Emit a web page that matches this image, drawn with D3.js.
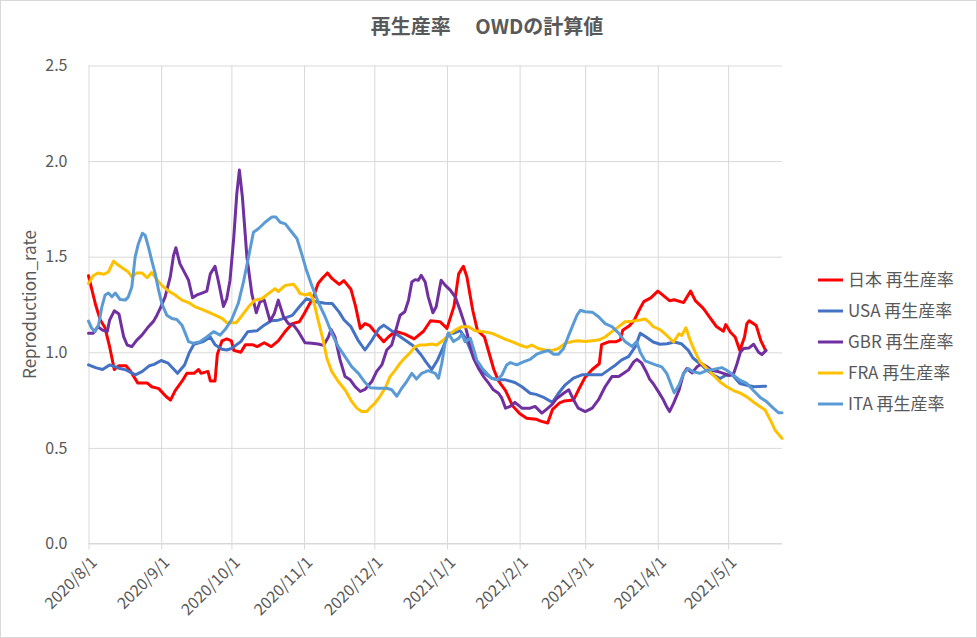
<!DOCTYPE html>
<html><head><meta charset="utf-8">
<script src="https://cdn.jsdelivr.net/npm/d3@7"></script>
<style>
html,body{margin:0;padding:0;background:#fff;}
svg{display:block;}
</style></head>
<body>
<svg id="chart" width="977" height="638"></svg>
<script>
// ---- data: [days since 2020-08-01, value] ----
const startDate = "2020-08-01";
const endDate = "2021-05-24";
const monthTicks = ["2020-08-01","2020-09-01","2020-10-01","2020-11-01","2020-12-01","2021-01-01","2021-02-01","2021-03-01","2021-04-01","2021-05-01"];
const yTicks = [0, 0.5, 1.0, 1.5, 2.0, 2.5];
const seriesNames = ["日本 再生産率","USA 再生産率","GBR 再生産率","FRA 再生産率","ITA 再生産率"];
const seriesColors = ["#FF0000","#4472C4","#7030A0","#FFC000","#5B9BD5"];

const jpn = [[0,1.40],[3,1.25],[5,1.17],[7,1.13],[9,1.03],[11,0.91],[13,0.93],[16,0.93],[18,0.90],[21,0.84],[25,0.84],[27,0.82],[30,0.81],[33,0.77],[35,0.75],[37,0.80],[40,0.85],[42,0.89],[45,0.89],[47,0.91],[48,0.89],[51,0.90],[52,0.85],[54,0.85],[55,0.99],[57,1.06],[59,1.07],[61,1.06],[62,1.01],[65,1.00],[67,1.04],[70,1.04],[72,1.03],[75,1.05],[78,1.03],[81,1.06],[84,1.11],[87,1.15],[90,1.16],[92,1.20],[96,1.29],[98,1.36],[100,1.39],[102,1.415],[104,1.385],[107,1.355],[109,1.375],[112,1.33],[114,1.24],[116,1.125],[118,1.15],[120,1.14],[122,1.11],[126,1.055],[128,1.08],[131,1.11],[135,1.095],[139,1.07],[143,1.11],[146,1.165],[150,1.16],[153,1.125],[156,1.24],[158,1.41],[160,1.45],[161.5,1.395],[164,1.22],[166,1.115],[169,1.08],[171,0.995],[173,0.91],[175,0.85],[178,0.80],[181,0.72],[184,0.68],[187,0.655],[191,0.65],[193,0.64],[196,0.63],[198,0.70],[201,0.735],[203,0.745],[207,0.75],[209,0.80],[212,0.87],[215,0.91],[218,0.94],[219,1.04],[222,1.055],[225,1.055],[227,1.065],[228,1.115],[231,1.14],[233,1.17],[235,1.22],[237,1.265],[240,1.285],[243,1.32],[245,1.30],[248,1.27],[250,1.275],[254,1.26],[257,1.32],[259,1.27],[262,1.235],[263,1.22],[265,1.185],[268,1.135],[271,1.11],[272,1.145],[274,1.105],[276,1.08],[278,1.01],[280,1.08],[281,1.15],[282,1.165],[285,1.14],[287,1.06],[289,1.01]];

const usa = [[0,0.934],[3,0.92],[6,0.91],[9,0.934],[13,0.917],[16,0.908],[20,0.882],[23,0.90],[26,0.93],[28,0.937],[31,0.957],[34,0.943],[36,0.917],[38,0.89],[41,0.934],[43,0.998],[45,1.042],[49,1.056],[52,1.08],[54,1.04],[57,1.016],[59,1.012],[61,1.02],[65,1.056],[68,1.108],[72,1.113],[75,1.142],[78,1.165],[81,1.168],[84,1.18],[87,1.193],[90,1.238],[93,1.28],[97,1.264],[101,1.257],[104,1.255],[107,1.21],[109,1.17],[112,1.134],[115,1.064],[118,1.012],[121,1.064],[124,1.125],[126,1.142],[129,1.116],[132,1.09],[136,1.056],[139,1.03],[142,0.986],[144,0.95],[146.5,0.91],[149,0.96],[151.5,1.03],[153.6,1.10],[156,1.10],[158.6,1.113],[161,1.073],[163.6,0.995],[166,0.934],[169,0.89],[172,0.865],[175,0.856],[178,0.856],[182,0.842],[185,0.82],[188.5,0.786],[191,0.78],[194,0.766],[198,0.738],[200.6,0.786],[203.5,0.83],[207,0.865],[210.6,0.882],[215,0.882],[219,0.882],[222,0.908],[225,0.934],[227.6,0.96],[230.5,0.977],[233.4,1.03],[235.5,1.10],[238,1.08],[241,1.054],[244,1.042],[247,1.045],[250,1.054],[253,1.045],[256,1.01],[258,0.97],[261,0.94],[264,0.906],[267,0.88],[269.6,0.863],[272,0.88],[275,0.88],[278,0.837],[281,0.828],[284,0.82],[289,0.823]];

const gbr = [[0,1.10],[2,1.10],[4,1.134],[6,1.116],[8,1.108],[9,1.168],[11,1.217],[13,1.20],[15,1.082],[16.5,1.038],[18.5,1.03],[20.6,1.064],[22.8,1.09],[25.6,1.134],[27.8,1.163],[29.2,1.194],[30.6,1.23],[32.7,1.29],[34.9,1.394],[36.3,1.507],[37.3,1.547],[39,1.464],[41.3,1.41],[42.7,1.377],[44.4,1.286],[46.3,1.30],[48.4,1.31],[50.5,1.32],[52,1.41],[54,1.45],[55.5,1.368],[57.6,1.24],[59,1.28],[60.4,1.377],[62,1.60],[63.3,1.83],[64.4,1.953],[65.7,1.81],[67.6,1.50],[69.7,1.307],[71.6,1.207],[73.2,1.264],[75,1.273],[77.5,1.163],[79.3,1.203],[81,1.273],[83.2,1.187],[85.3,1.15],[87.5,1.142],[89.6,1.108],[92.4,1.05],[95.3,1.047],[98,1.043],[100.3,1.036],[102.4,1.08],[103.5,1.12],[105.2,1.08],[107.4,0.96],[109.5,0.873],[111.7,0.856],[113.8,0.82],[116,0.795],[118,0.806],[120.9,0.847],[123,0.90],[125.2,0.934],[127.3,1.012],[129.4,1.038],[131.6,1.134],[133,1.194],[135,1.212],[136.6,1.273],[138,1.368],[139.4,1.38],[140.8,1.377],[142,1.403],[143.7,1.368],[145,1.29],[147,1.207],[148.4,1.238],[150.5,1.377],[152.3,1.35],[154.4,1.325],[156.5,1.29],[158.6,1.22],[160.7,1.142],[162.9,1.038],[164.3,0.97],[166.4,0.917],[168.6,0.873],[170.7,0.84],[172.8,0.804],[175,0.786],[176.4,0.76],[178,0.708],[180,0.717],[182,0.738],[185,0.708],[188.5,0.708],[190.6,0.717],[193.5,0.682],[195.6,0.703],[197.8,0.726],[200,0.76],[202.8,0.786],[205,0.804],[207,0.752],[209,0.708],[212,0.69],[215,0.708],[217.7,0.752],[220.5,0.82],[223.4,0.873],[226.3,0.873],[228.4,0.89],[230.5,0.908],[232.7,0.95],[234.1,0.963],[236,0.945],[238,0.90],[239.5,0.86],[241,0.837],[243.3,0.793],[245.4,0.75],[246.8,0.715],[248,0.69],[249.7,0.733],[252,0.80],[254,0.89],[255.4,0.915],[257.6,0.892],[259.7,0.924],[261.8,0.94],[264,0.924],[266,0.906],[269,0.898],[271,0.89],[273.3,0.88],[275.4,0.89],[276.8,0.94],[278.2,1.0],[279.6,1.02],[281.8,1.022],[283.9,1.042],[286,1.0],[287.4,0.988],[289.2,1.01]];

const fra = [[0,1.36],[2,1.40],[4,1.415],[6.4,1.408],[8.5,1.42],[10.7,1.477],[12.8,1.455],[15,1.437],[17,1.42],[18.5,1.394],[20.6,1.415],[22.8,1.415],[25,1.39],[27,1.417],[29.2,1.38],[31.3,1.35],[34.2,1.32],[37,1.30],[39.9,1.273],[42.7,1.26],[45.5,1.238],[48.4,1.224],[51.2,1.21],[54,1.194],[57,1.177],[59,1.155],[63,1.155],[65.4,1.19],[68.3,1.238],[71,1.273],[74,1.28],[76.8,1.307],[79.6,1.333],[81,1.318],[84,1.35],[87.5,1.356],[89,1.333],[90.3,1.307],[93,1.30],[94.5,1.31],[96,1.273],[98,1.168],[100.3,1.056],[101.7,0.97],[103.8,0.90],[106.6,0.847],[109.5,0.804],[112.3,0.743],[114.5,0.708],[116.6,0.69],[118.8,0.69],[120.2,0.71],[122.3,0.734],[124.4,0.77],[126.6,0.812],[128.7,0.873],[131,0.908],[133,0.943],[135,0.97],[137.3,0.998],[139.4,1.03],[141.5,1.038],[143.7,1.038],[146.5,1.043],[148.6,1.038],[151.5,1.064],[153.6,1.09],[156.5,1.116],[159.3,1.134],[162.2,1.134],[165,1.113],[168.6,1.108],[172,1.10],[175,1.085],[178,1.068],[180.7,1.056],[184.2,1.038],[187,1.026],[189.2,1.038],[192,1.02],[195,1.012],[197.8,1.009],[200.6,1.02],[203.5,1.047],[206.3,1.056],[209,1.06],[212,1.056],[215,1.06],[217.7,1.064],[220.5,1.08],[223.4,1.108],[226.3,1.134],[229,1.16],[232,1.163],[234.8,1.168],[237.6,1.174],[239.5,1.155],[241,1.135],[244,1.118],[246.8,1.088],[249.7,1.054],[252,1.097],[253.2,1.088],[255,1.128],[256.8,1.0625],[259,1.0],[261,0.95],[264,0.915],[266.7,0.88],[269.6,0.845],[272.4,0.82],[275.3,0.80],[278,0.788],[281,0.767],[283.8,0.74],[286.7,0.715],[288.8,0.698],[291,0.646],[293,0.594],[296,0.55]];

const ita = [[0,1.163],[1.4,1.125],[2.8,1.108],[4.3,1.142],[5.7,1.238],[7.1,1.30],[8.5,1.31],[10,1.29],[11.4,1.31],[13.5,1.276],[15.7,1.273],[17,1.29],[18.5,1.342],[19.9,1.498],[21.3,1.568],[23,1.623],[24.2,1.611],[25.6,1.55],[27,1.48],[28.5,1.41],[29.9,1.325],[31.3,1.255],[33.4,1.194],[35.6,1.177],[37.7,1.172],[39.9,1.142],[41.3,1.10],[42.7,1.056],[44.8,1.047],[47.7,1.056],[50.5,1.08],[53.4,1.108],[56.2,1.09],[58.4,1.12],[61,1.168],[63.9,1.255],[66,1.36],[68.3,1.498],[70.4,1.628],[72.5,1.646],[75.4,1.68],[78.2,1.707],[80,1.707],[81.8,1.68],[84,1.672],[86.8,1.628],[89,1.594],[91,1.515],[93,1.43],[95.3,1.35],[98,1.264],[101,1.186],[103.8,1.10],[106.6,1.03],[109.5,0.977],[112.3,0.925],[115.2,0.89],[118,0.843],[120.2,0.815],[123.7,0.812],[127.3,0.812],[129.4,0.804],[131.6,0.77],[133.7,0.812],[135.8,0.847],[138,0.89],[140,0.86],[142.2,0.89],[145,0.904],[148,0.89],[149.4,0.864],[150.8,0.943],[152.2,1.047],[153.6,1.10],[155.8,1.056],[158,1.073],[159.3,1.095],[160.7,1.056],[163,1.073],[164.3,1.02],[165.7,0.96],[168,0.917],[170,0.89],[172,0.864],[174.3,0.856],[176.4,0.88],[178.5,0.934],[180,0.946],[182.8,0.934],[185.6,0.95],[188.5,0.963],[191.3,0.99],[194.2,1.003],[196.3,1.009],[198.5,0.99],[200.6,0.99],[202.8,1.02],[205,1.09],[207,1.15],[208.5,1.194],[210,1.22],[212,1.212],[215,1.21],[217.7,1.186],[220.5,1.15],[223.4,1.134],[226.3,1.10],[229,1.056],[232,1.03],[234,1.056],[235.5,1.0],[237.6,0.955],[239.8,0.945],[242.6,0.932],[244.7,0.924],[246.8,0.89],[249,0.82],[250,0.788],[252,0.828],[254,0.89],[256,0.915],[258,0.898],[261,0.89],[264,0.906],[266.7,0.91],[270.3,0.92],[272.4,0.906],[275.3,0.88],[278,0.854],[281,0.837],[283.8,0.80],[286.7,0.764],[289.5,0.741],[292.4,0.707],[294.5,0.684],[296,0.684]];

const allSeries = [jpn, usa, gbr, fra, ita];

// ---- layout ----
const W = 977, H = 638;
const margin = {left: 88.5, right: W - 782, top: 65.5, bottom: H - 543.5};
const svg = d3.select("#chart");
const parse = d3.utcParse("%Y-%m-%d");
const t0 = parse(startDate);
const toDate = d => new Date(t0.getTime() + d * 86400000);

const x = d3.scaleUtc().domain([t0, parse(endDate)]).range([margin.left, W - margin.right]);
const y = d3.scaleLinear().domain([0, 2.5]).range([H - margin.bottom, margin.top]);

// border
svg.append("rect").attr("x",0.5).attr("y",0.5).attr("width",W-1).attr("height",H-1)
  .attr("fill","#fff").attr("stroke","#d9d9d9");

const gridColor = "#d9d9d9";
const txtColor = "#595959";
const fontCJK = "'Noto Sans CJK JP', 'Noto Sans', sans-serif";

// horizontal grid + y labels
const yAxis = d3.axisLeft(y).tickValues(yTicks).tickFormat(d3.format(".1f"))
  .tickSizeInner(-(x.range()[1]-x.range()[0])).tickSizeOuter(0).tickPadding(21);
const gy = svg.append("g").attr("transform",`translate(${margin.left},0)`).call(yAxis);
gy.select(".domain").remove();
gy.selectAll(".tick line").attr("stroke",gridColor).attr("stroke-width",1);
gy.selectAll(".tick text").attr("fill",txtColor).style("font-family",fontCJK).style("font-size","16px");

// vertical grid + x labels
const xAxis = d3.axisBottom(x).tickValues(monthTicks.map(parse))
  .tickFormat(d3.utcFormat("%Y/%-m/%-d")).tickSizeOuter(0);
const gx = svg.append("g").attr("transform",`translate(0,${y(0)})`).call(xAxis);
gx.select(".domain").remove();
gx.selectAll(".tick line").attr("y1",6).attr("y2",-(y(0)-y(2.5))).attr("stroke",gridColor);
gx.selectAll(".tick text").attr("fill",txtColor).style("font-family",fontCJK).style("font-size","16px")
  .attr("text-anchor","end").attr("dy",null).attr("y",null)
  .attr("transform","translate(9,20) rotate(-45)");

// x baseline
svg.append("line").attr("x1",x.range()[0]).attr("x2",x.range()[1]).attr("y1",y(0)).attr("y2",y(0))
  .attr("stroke",gridColor);

// lines
const line = d3.line().x(d => x(toDate(d[0]))).y(d => y(d[1]));
allSeries.forEach((s,i) => {
  svg.append("path").datum(s).attr("d",line).attr("fill","none")
    .attr("stroke",seriesColors[i]).attr("stroke-width",3)
    .attr("stroke-linejoin","round").attr("stroke-linecap","round");
});

// title
svg.append("text").attr("x",487).attr("y",34).attr("text-anchor","middle")
  .style("font-family",fontCJK).style("font-size","20px").style("font-weight","bold")
  .attr("fill",txtColor).text("再生産率　 OWDの計算値");

// y axis title
svg.append("text").attr("transform",`translate(36,${(y(0)+y(2.5))/2}) rotate(-90)`)
  .attr("text-anchor","middle").style("font-family",fontCJK).style("font-size","17px")
  .attr("fill",txtColor).text("Reproduction_rate");

// legend
const lg = svg.append("g");
seriesNames.forEach((n,i) => {
  const ly = 280 + i*31;
  lg.append("line").attr("x1",818).attr("x2",843).attr("y1",ly).attr("y2",ly)
    .attr("stroke",seriesColors[i]).attr("stroke-width",3);
  lg.append("text").attr("x",848).attr("y",ly).attr("dy","0.35em")
    .style("font-family",fontCJK).style("font-size","17px").attr("fill",txtColor).text(n);
});
</script>
</body></html>
